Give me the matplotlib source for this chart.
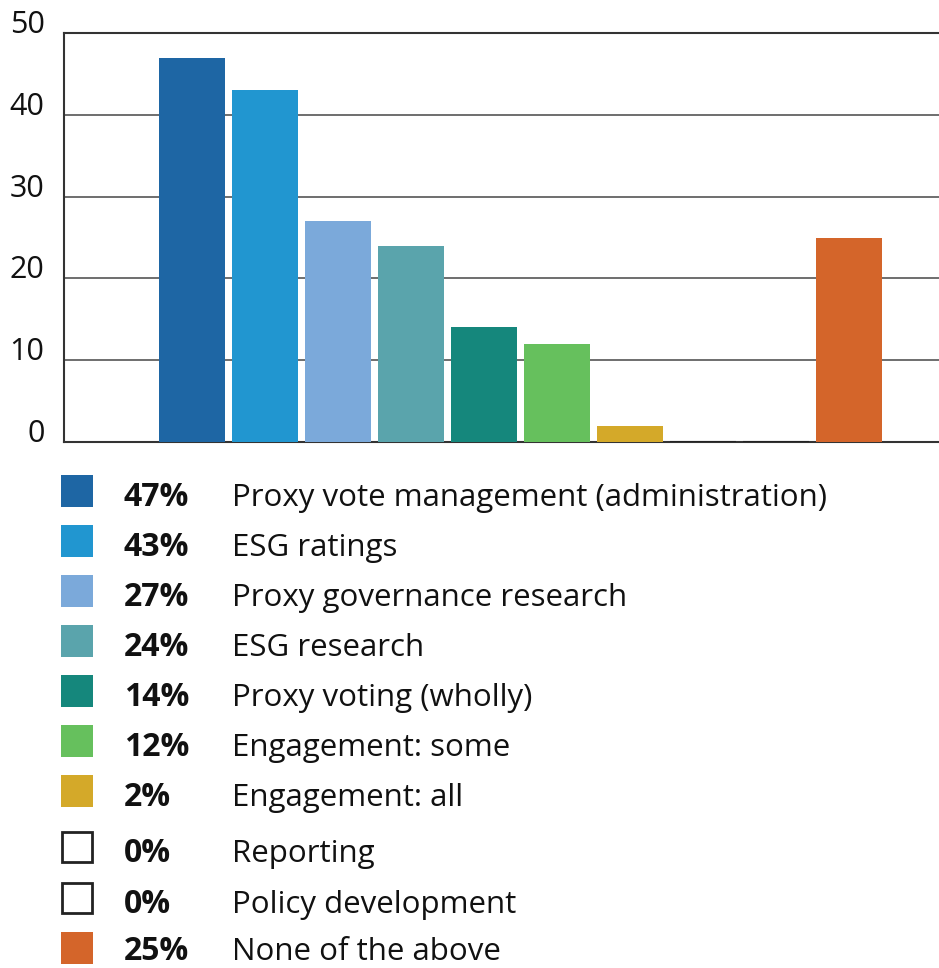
import matplotlib.pyplot as plt
import matplotlib.patches as mpatches

plt.rcParams['font.family'] = ['Open Sans', 'DejaVu Sans']

services = ['Proxy vote management (administration)', 'ESG ratings',
            'Proxy governance research', 'ESG research', 'Proxy voting (wholly)',
            'Engagement: some', 'Engagement: all', 'Reporting',
            'Policy development', 'None of the above']
shares = [47, 43, 27, 24, 14, 12, 2, 0, 0, 25]
colors = ['#1e66a4', '#2196d0', '#7ba9da', '#5aa4ac', '#15877c',
          '#66c05d', '#d4a929', 'white', 'white', '#d4652a']
yticks = [0, 10, 20, 30, 40, 50]

W, H = 939, 968
fig = plt.figure(figsize=(W / 100, H / 100), dpi=100)
ax = fig.add_axes([64 / W, 1 - 442 / H, (W - 64) / W, (442 - 33) / H])

for i, (v, c) in enumerate(zip(shares, colors)):
    if v == 0:
        ax.bar(i, v, width=0.9, color='white', edgecolor='#222222', linewidth=1.5, zorder=3)
    else:
        ax.bar(i, v, width=0.9, color=c, zorder=3)

ax.set_xlim(-1.75, 10.23)
ax.set_ylim(0, 50)
ax.set_yticks(yticks)
ax.set_yticklabels([str(t) for t in yticks], fontsize=22, color='#111111')
for lab in ax.get_yticklabels():
    lab.set_va('baseline')
ax.tick_params(axis='y', length=0, pad=14)
ax.set_xticks([])
ax.yaxis.grid(True, color='#555555', linewidth=1.2, zorder=0)
ax.set_axisbelow(True)
ax.spines['right'].set_visible(False)
for side in ['left', 'top', 'bottom']:
    ax.spines[side].set_color('#333333')
    ax.spines[side].set_linewidth(1.5)

# legend rows below the chart
row_y = [491, 541, 591, 641, 691, 741, 791, 847, 898, 948]
for yc, v, name, c in zip(row_y, shares, services, colors):
    if v == 0:
        sq = mpatches.Rectangle((62 / W, 1 - (yc + 15) / H), 30 / W, 30 / H,
                                facecolor='white', edgecolor='#222222', linewidth=2,
                                transform=fig.transFigure)
    else:
        sq = mpatches.Rectangle((61 / W, 1 - (yc + 16) / H), 32 / W, 32 / H,
                                facecolor=c, edgecolor='none', transform=fig.transFigure)
    fig.patches.append(sq)
    base = min(yc + 15, 960)
    fig.text(124 / W, 1 - base / H, f'{v}%', fontsize=23, fontweight='bold',
             color='#111111', va='baseline', ha='left')
    fig.text(232 / W, 1 - base / H, name, fontsize=22.5,
             color='#111111', va='baseline', ha='left')

fig.savefig('out.png', dpi=100)
